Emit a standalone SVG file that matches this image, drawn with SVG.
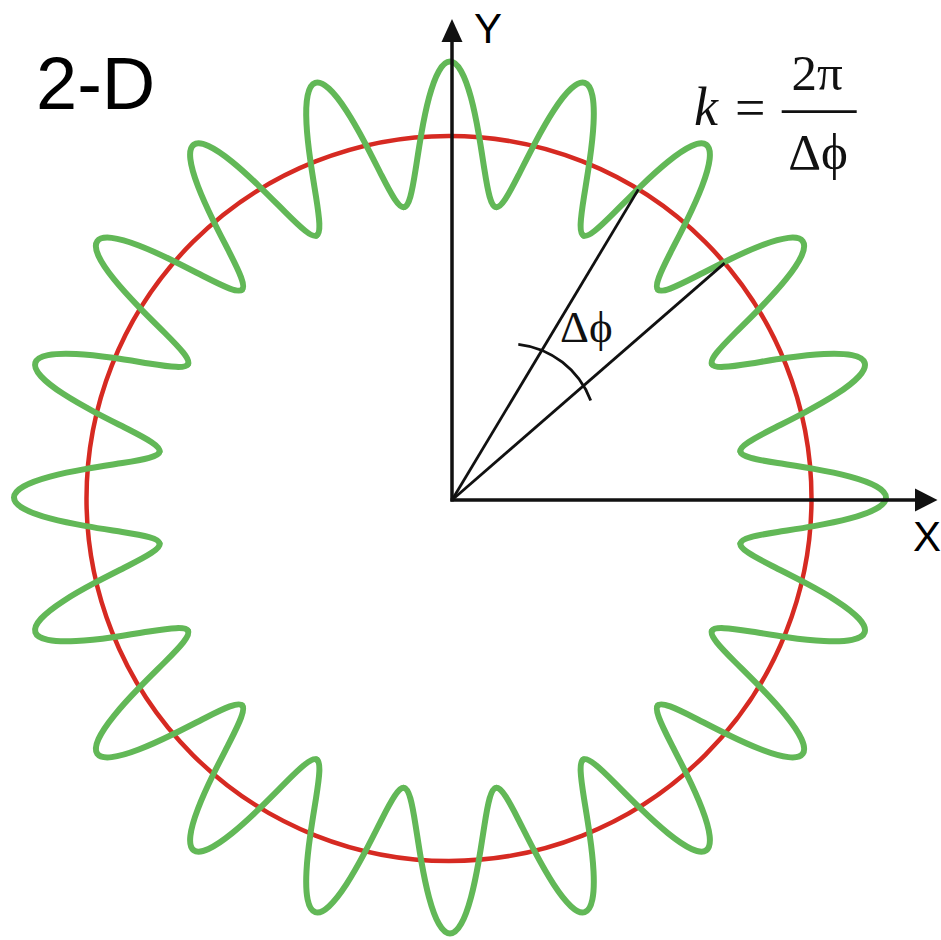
<svg xmlns="http://www.w3.org/2000/svg" xmlns:xlink="http://www.w3.org/1999/xlink" width="941" height="940" viewBox="0 0 941 940">
<style>
.wave{fill:none;stroke:#62B857;stroke-width:6;stroke-linecap:round;stroke-linejoin:round}
.ring{fill:none;stroke:#D62A22;stroke-width:4.5}
.ax{stroke:#111;stroke-width:3.5;fill:none}
.thin{stroke:#111;stroke-width:2.8;fill:none}
.sans{font-family:"Liberation Sans",Arial,sans-serif;fill:#000}
.serif{font-family:"Liberation Serif","Times New Roman",serif;fill:#111}
</style>
<defs>
<path id="lobe" d="M-45.992,-290.380 C-43.458,-290.781 -41.433,-294.426 -39.616,-300.915 C-37.799,-307.404 -36.180,-316.722 -34.442,-327.695 C-32.704,-338.668 -30.841,-351.271 -28.638,-363.875 C-26.435,-376.479 -23.890,-389.051 -20.961,-399.951 C-18.032,-410.851 -14.722,-420.051 -11.164,-426.342 C-7.606,-432.633 -3.805,-436 0,-436 C3.805,-436 7.606,-432.633 11.164,-426.342 C14.722,-420.051 18.032,-410.851 20.961,-399.951 C23.890,-389.051 26.435,-376.479 28.638,-363.875 C30.841,-351.271 32.704,-338.668 34.442,-327.695 C36.180,-316.722 37.799,-307.404 39.616,-300.915 C41.433,-294.426 43.458,-290.781 45.992,-290.380"/>
</defs>
<g id="circle">
<circle class="ring" cx="449" cy="498.5" r="362.5"/>
</g>
<g id="wave" class="wave" transform="translate(450,497.5)">
<use xlink:href="#lobe" href="#lobe"/>
<use xlink:href="#lobe" href="#lobe" transform="rotate(18)"/>
<use xlink:href="#lobe" href="#lobe" transform="rotate(36)"/>
<use xlink:href="#lobe" href="#lobe" transform="rotate(54)"/>
<use xlink:href="#lobe" href="#lobe" transform="rotate(72)"/>
<use xlink:href="#lobe" href="#lobe" transform="rotate(90)"/>
<use xlink:href="#lobe" href="#lobe" transform="rotate(108)"/>
<use xlink:href="#lobe" href="#lobe" transform="rotate(126)"/>
<use xlink:href="#lobe" href="#lobe" transform="rotate(144)"/>
<use xlink:href="#lobe" href="#lobe" transform="rotate(162)"/>
<use xlink:href="#lobe" href="#lobe" transform="rotate(180)"/>
<use xlink:href="#lobe" href="#lobe" transform="rotate(198)"/>
<use xlink:href="#lobe" href="#lobe" transform="rotate(216)"/>
<use xlink:href="#lobe" href="#lobe" transform="rotate(234)"/>
<use xlink:href="#lobe" href="#lobe" transform="rotate(252)"/>
<use xlink:href="#lobe" href="#lobe" transform="rotate(270)"/>
<use xlink:href="#lobe" href="#lobe" transform="rotate(288)"/>
<use xlink:href="#lobe" href="#lobe" transform="rotate(306)"/>
<use xlink:href="#lobe" href="#lobe" transform="rotate(324)"/>
<use xlink:href="#lobe" href="#lobe" transform="rotate(342)"/>
</g>
<g id="axes">
<line class="ax" x1="452" y1="501.5" x2="452" y2="38"/>
<polygon points="452,19 441.5,42 462.5,42" fill="#111"/>
<line class="ax" x1="450.5" y1="500" x2="918" y2="500"/>
<polygon points="937.5,500 915,488.5 915,511.5" fill="#111"/>
</g>
<g id="connectors">
<line class="thin" x1="452" y1="500" x2="638.4" y2="189.4"/>
<line class="thin" x1="452" y1="500" x2="724.6" y2="263.1"/>
<path class="thin" d="M518.3,344.3 A88,88 0 0 1 590.7,400.5"/>
</g>
<g id="labels">
<text class="sans" x="36" y="109" font-size="74">2-D</text>
<text class="sans" x="474" y="42.5" font-size="42">Y</text>
<text class="sans" x="913" y="550.5" font-size="42">X</text>
<text class="serif" x="560" y="342" font-size="45">Δϕ</text>
</g>
<g id="formula">
<text class="serif" x="694" y="125" font-size="54" font-style="italic">k</text>
<text class="serif" x="735" y="126" font-size="54">=</text>
<line class="thin" x1="781.7" y1="111.7" x2="856.7" y2="111.7" stroke-width="2.2"/>
<text class="serif" x="817" y="90" font-size="51" text-anchor="middle">2π</text>
<text class="serif" x="818" y="168.5" font-size="51" text-anchor="middle">Δϕ</text>
</g>
</svg>
